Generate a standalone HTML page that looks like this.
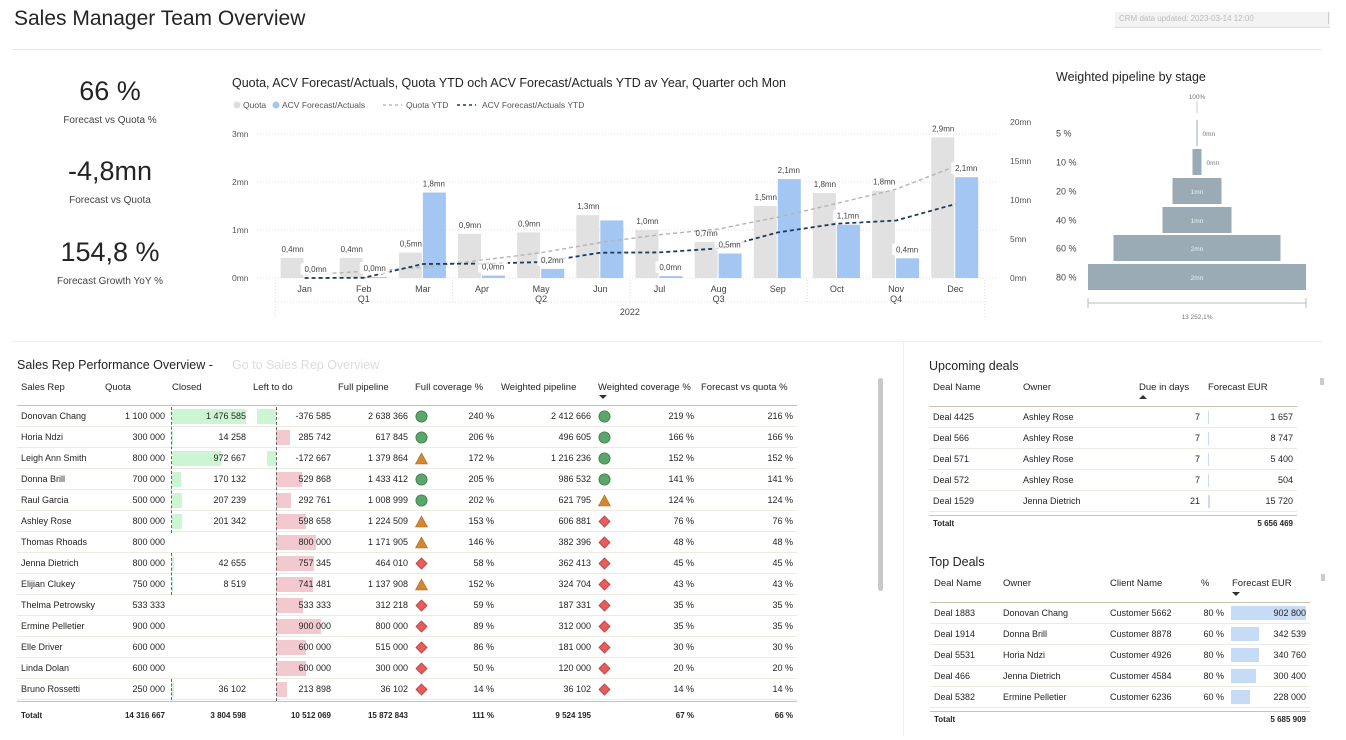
<!DOCTYPE html>
<html><head><meta charset="utf-8">
<style>
*{box-sizing:border-box;margin:0;padding:0}
body{width:1346px;height:740px;background:#fff;position:relative;overflow:hidden;font-family:"Liberation Sans",sans-serif;color:#252423}
.a{position:absolute;white-space:nowrap}
.t{font-size:9px;line-height:11px}
.r{text-align:right}
.h{font-size:9.5px;color:#252423}
</style></head><body>
<div class="a" style="left:14px;top:7px;font-size:21px">Sales Manager Team Overview</div>
<div class="a" style="left:12px;top:49px;width:1310px;height:1px;background:#ece8dc"></div>
<div class="a" style="left:1115px;top:12px;width:215px;height:16px;background:#f3f3f3;border-bottom:1px solid #ddd;font-size:8px;color:#bbb;padding:2px 0 0 4px;overflow:hidden">CRM data updated: 2023-03-14 12:00</div>
<div class="a" style="left:1328px;top:12px;width:1px;height:12px;background:#ccc"></div>

<div class="a" style="left:20px;top:76px;width:180px;text-align:center;font-size:27px">66 %</div>
<div class="a" style="left:20px;top:115px;width:180px;text-align:center;font-size:10px;color:#444">Forecast vs Quota %</div>
<div class="a" style="left:20px;top:156px;width:180px;text-align:center;font-size:27px">-4,8mn</div>
<div class="a" style="left:20px;top:195px;width:180px;text-align:center;font-size:10px;color:#444">Forecast vs Quota</div>
<div class="a" style="left:20px;top:237px;width:180px;text-align:center;font-size:27px">154,8 %</div>
<div class="a" style="left:20px;top:276px;width:180px;text-align:center;font-size:10px;color:#444">Forecast Growth YoY %</div>

<div class="a" style="left:232px;top:76px;font-size:12.5px">Quota, ACV Forecast/Actuals, Quota YTD och ACV Forecast/Actuals YTD av Year, Quarter och Mon</div>
<svg class="a" id="combo" style="left:0;top:0" width="1346" height="340"></svg>

<div class="a" style="left:1056px;top:70px;font-size:12.5px">Weighted pipeline by stage</div>
<svg class="a" id="funnel" style="left:0;top:0" width="1346" height="340"></svg>

<div class="a" style="left:12px;top:341px;width:1310px;height:1px;background:#eee"></div>
<div class="a" style="left:903px;top:341px;width:1px;height:395px;background:#eee"></div>

<div class="a" style="left:17px;top:358px;font-size:12.5px">Sales Rep Performance Overview -</div>
<div class="a" style="left:232px;top:358px;font-size:12.5px;color:#ddd">Go to Sales Rep Overview</div>
<div class="a" id="sales" style="left:0;top:0;width:900px;height:740px"></div>
<div class="a" style="left:878px;top:378px;width:5px;height:213px;background:#c8c8c8;border-radius:3px"></div>

<div class="a" style="left:929px;top:359px;font-size:12.5px">Upcoming deals</div>
<div class="a" id="upc" style="left:0;top:0;width:1346px;height:740px"></div>
<div class="a" style="left:929px;top:555px;font-size:12.5px">Top Deals</div>
<div class="a" id="top" style="left:0;top:0;width:1346px;height:740px"></div>
<div class="a" style="left:1320px;top:378px;width:4px;height:7px;background:#ccc"></div>
<div class="a" style="left:1321px;top:574px;width:4px;height:7px;background:#ccc"></div>

<script>
// ===== combo chart data =====
const months=["Jan","Feb","Mar","Apr","May","Jun","Jul","Aug","Sep","Oct","Nov","Dec"];
const quarters=["Q1","Q2","Q3","Q4"];
const quota=[0.42,0.42,0.53,0.92,0.95,1.31,1.0,0.75,1.5,1.77,1.82,2.93];
const acv=[0.0,0.02,1.78,0.05,0.19,1.2,0.04,0.51,2.06,1.11,0.41,2.1];
const quotaYtd=[0.42,0.84,1.37,2.29,3.24,4.55,5.55,6.3,7.8,9.57,11.39,14.32];
const acvYtd=[0.0,0.02,1.8,1.85,2.04,3.24,3.28,3.79,5.85,6.96,7.37,9.47];
const leftTicks=[0,1,2,3];
const rightTicks=[0,5,10,15,20];
const quotaLabels=["0,4mn","0,4mn","0,5mn","0,9mn","0,9mn","1,3mn","1,0mn","0,7mn","1,5mn","1,8mn","1,8mn","2,9mn"];
const acvLabels=["0,0mn","0,0mn","1,8mn","0,0mn","0,2mn","","0,0mn","0,5mn","2,1mn","1,1mn","0,4mn","2,1mn"];
// ===== funnel data =====
const stages=["100%","5 %","10 %","20 %","40 %","60 %","80 %"];
const stageVals=[0.004,0.01,0.09,0.49,0.69,1.67,2.18];
const stageLabels=["","0mn","0mn","1mn","1mn","2mn","2mn"];

const NS="http://www.w3.org/2000/svg";
function s(tag,p,at){const e=document.createElementNS(NS,tag);for(const k in at)e.setAttribute(k,at[k]);p.appendChild(e);return e;}
function tx(p,x,y,str,at){const e=s("text",p,Object.assign({x:x,y:y,"font-family":"Liberation Sans, sans-serif"},at));e.textContent=str;return e;}

const svg=document.getElementById("combo");
const x0=275,slot=59.15,y0=278;
const xc=i=>x0+slot*(i+0.5);
const yL=v=>y0-v*48;
const yR=v=>y0-v*7.8;
let lg;
lg=s("circle",svg,{cx:237,cy:105,r:3.5,fill:"#ddd"});


tx(svg,243,108,"Quota",{"font-size":8.5,fill:"#555"});
lg=s("circle",svg,{cx:276,cy:105,r:3.5,fill:"#a3c6f2"});


tx(svg,282,108,"ACV Forecast/Actuals",{"font-size":8.5,fill:"#555"});
lg=s("line",svg,{x1:383,y1:105,x2:402,y2:105,stroke:"#bbb","stroke-width":1.5,"stroke-dasharray":"3 3"});


tx(svg,406,108,"Quota YTD",{"font-size":8.5,fill:"#555"});
lg=s("line",svg,{x1:457,y1:105,x2:476,y2:105,stroke:"#1f3b57","stroke-width":1.5,"stroke-dasharray":"3 3"});


tx(svg,482,108,"ACV Forecast/Actuals YTD",{"font-size":8.5,fill:"#555"});
leftTicks.forEach(v=>{
 const g=s("line",svg,{x1:257,x2:998,y1:yL(v),y2:yL(v),stroke:"#ddd","stroke-dasharray":"1 2"});
 
 
 const t=tx(svg,232,yL(v)+3,v+"mn",{"font-size":8.5,fill:"#555"});
 
 
});
rightTicks.forEach(v=>{
 const t=tx(svg,1010,yR(v)+3,v+"mn",{"font-size":8.5,fill:"#555"});
 
 
});
months.forEach((m,i)=>{
 const c=xc(i);
 const b1=s("rect",svg,{x:c-24,y:yL(quota[i]),width:23,height:quota[i]*48,fill:"#e1e1e1"});
 
 
 const b2=s("rect",svg,{x:c,y:yL(acv[i]),width:23,height:acv[i]*48,fill:"#a3c6f2"});
 
 
 const ml=tx(svg,c,292,m,{"font-size":9,fill:"#444","text-anchor":"middle"});
 
 
});
function line(arr,color,w,name){
 const d=arr.map((v,i)=>(i?"L":"M")+xc(i).toFixed(1)+","+yR(v).toFixed(1)).join(" ");
 const p=s("path",svg,{d:d,fill:"none",stroke:color,"stroke-width":w,"stroke-dasharray":"4 3"});
 
 
}
line(quotaYtd,"#b4b4b4",1.4,"line-quota-ytd");
line(acvYtd,"#1f3b57",1.8,"line-acv-ytd");
months.forEach((m,i)=>{
 const c=xc(i);
 const q=tx(svg,c-12,yL(quota[i])-6,quotaLabels[i],{"font-size":8,fill:"#444","text-anchor":"middle"});
 
 
 if(acvLabels[i]){
  const ly=yL(acv[i])-6;
  const bg=s("rect",svg,{x:c+11-15,y:ly-9,width:30,height:12,rx:2,fill:"#fff","fill-opacity":0.85});
  
  
  const a=tx(svg,c+11,ly,acvLabels[i],{"font-size":8,fill:"#444","text-anchor":"middle"});
  
  
 }
});
[0,3,6,9,12].forEach(k=>{
 const l=s("line",svg,{x1:x0+slot*k,x2:x0+slot*k,y1:280,y2:k%12==0?318:302,stroke:"#ddd","stroke-dasharray":"1 2"});
 
 
});
let hl=s("line",svg,{x1:x0,x2:x0+slot*12,y1:302,y2:302,stroke:"#ddd","stroke-dasharray":"1 2"});


quarters.forEach((q,k)=>{
 const t=tx(svg,x0+slot*(3*k+1.5),302,q,{"font-size":9,fill:"#444","text-anchor":"middle"});
 
 
});
let yr=tx(svg,x0+slot*6,315,"2022",{"font-size":9,fill:"#444","text-anchor":"middle"});



// ===== funnel =====
const fs=document.getElementById("funnel");
const fc=1197,fscale=218/2.18,rowY=[107,133,162,191,220,248,277];
stages.forEach((st,i)=>{
 const w=Math.max(stageVals[i]*fscale,1);
 const r=s("rect",fs,{x:fc-w/2,y:rowY[i]-13+(i==0?7:0),width:w,height:i==0?12:26,fill:i==0?"#ccc":"#9aabb6"});
 
 
 if(i==0){
  const t=tx(fs,fc,99,st,{"font-size":6.5,fill:"#777","text-anchor":"middle"});
  
  
 }else{
  const t=tx(fs,1056,rowY[i]+3.5,st,{"font-size":9,fill:"#444"});
  
  
  const inside=w>30;
  const v=tx(fs,inside?fc:fc+w/2+5,rowY[i]+3,stageLabels[i],{"font-size":6.5,fill:inside?"#eef2f4":"#777","text-anchor":inside?"middle":"start"});
  
  
 }
});
let fa=s("path",fs,{d:"M1088,298 V308 M1088,303 H1306 M1306,298 V308",stroke:"#bbb",fill:"none"});


let ft=tx(fs,1197,319,"13 252,1%",{"font-size":6.5,fill:"#777","text-anchor":"middle"});



// ===== tables =====
function fmt(n){const neg=n<0;let s=Math.abs(n).toString().replace(/\B(?=(\d{3})+(?!\d))/g," ");return (neg?"-":"")+s;}
function d(p,cls,style,html){const e=document.createElement("div");e.className="a "+cls;e.style.cssText=style;e.innerHTML=html;p.appendChild(e);return e;}

const reps=["Donovan Chang","Horia Ndzi","Leigh Ann Smith","Donna Brill","Raul Garcia","Ashley Rose","Thomas Rhoads","Jenna Dietrich","Elijian Clukey","Thelma Petrowsky","Ermine Pelletier","Elle Driver","Linda Dolan","Bruno Rossetti"];
const repQuota=[1100000,300000,800000,700000,500000,800000,800000,800000,750000,533333,900000,600000,600000,250000];
const repClosed=[1476585,14258,972667,170132,207239,201342,0,42655,8519,0,0,0,0,36102];
const repLeft=[-376585,285742,-172667,529868,292761,598658,800000,757345,741481,533333,900000,600000,600000,213898];
const repPipe=[2638366,617845,1379864,1433412,1008999,1224509,1171905,464010,1137908,312218,800000,515000,300000,36102];
const fullIcon=["c","c","t","c","c","t","t","d","t","d","d","d","d","d"];
const fullCov=[240,206,172,205,202,153,146,58,152,59,89,86,50,14];
const repWeighted=[2412666,496605,1216236,986532,621795,606881,382396,362413,324704,187331,312000,181000,120000,36102];
const wIcon=["c","c","c","c","t","d","d","d","d","d","d","d","d","d"];
const wCov=[219,166,152,141,124,76,48,45,43,35,35,30,20,14];
const fvq=[216,166,152,141,124,76,48,45,43,35,35,30,20,14];
const repTotals=["14 316 667","3 804 598","10 512 069","15 872 843","111 %","9 524 195","67 %","66 %"];

function icon(type){
 if(type=="c")return '<svg width="13" height="13"><circle cx="6.5" cy="6.5" r="5.6" fill="#5ba66b" stroke="#3e7d4c" stroke-width="0.8"/></svg>';
 if(type=="t")return '<svg width="13" height="13"><path d="M6.5,1 L12.5,12 H0.5Z" fill="#d3872e" stroke="#a8671f" stroke-width="0.6"/></svg>';
 return '<svg width="13" height="13"><path d="M6.5,1 L12,6.5 L6.5,12 L1,6.5Z" fill="#e85c5c" stroke="#b83a3a" stroke-width="0.8"/></svg>';
}
const BS=0.00005;
const S=document.getElementById("sales");
const hdr=[["Sales Rep",21],["Quota",105],["Closed",172],["Left to do",253],["Full pipeline",338],["Full coverage %",415],["Weighted pipeline",501],["Weighted coverage %",598],["Forecast vs quota %",701]];
hdr.forEach(h=>{const e=d(S,"h","left:"+h[1]+"px;top:382px","");e.textContent=h[0];
 
 });
let ar=d(S,"","left:599px;top:395px;width:0;height:0;border-left:4px solid transparent;border-right:4px solid transparent;border-top:4px solid #333","");


let hln=d(S,"","left:17px;top:405px;width:780px;height:1px;background:#c8c2b3","");


const RH=21,RY=406;
reps.forEach((n,i)=>{
 const y=RY+i*RH;
 const row=d(S,"t","left:17px;top:"+y+"px;width:780px;height:21px;border-bottom:1px solid #eceae2","");
 
 
 const cy=y+5;
 if(repClosed[i]>0){
  const b=d(S,"","left:172px;top:"+(y+3)+"px;width:"+(repClosed[i]*BS)+"px;height:15px;background:#ccf5d3","");
  
  
 }
 const lw=Math.abs(repLeft[i])*BS;
 const lb=d(S,"","left:"+(repLeft[i]<0?276-lw:276)+"px;top:"+(y+3)+"px;width:"+lw+"px;height:15px;background:"+(repLeft[i]<0?"#ccf5d3":"#f2c9cf"),"");
 
 
 const cells=[[n,21,0,"l"],[fmt(repQuota[i]),105,60],[repClosed[i]?fmt(repClosed[i]):"",180,66],[fmt(repLeft[i]),270,61],[fmt(repPipe[i]),340,68],[fullCov[i]+" %",440,54],[fmt(repWeighted[i]),510,81],[wCov[i]+" %",630,64],[fvq[i]+" %",720,73]];
 cells.forEach(c=>{
  const e=d(S,"t"+(c[3]?"":" r"),"left:"+c[1]+"px;top:"+cy+"px;"+(c[3]?"":"width:"+c[2]+"px"),"");
  e.textContent=c[0];
  
  
 });
 const i1=d(S,"","left:415px;top:"+(y+4)+"px;width:13px;height:13px",icon(fullIcon[i]));
 
 
 const i2=d(S,"","left:598px;top:"+(y+4)+"px;width:13px;height:13px",icon(wIcon[i]));
 
 
});
let dl1=d(S,"","left:171px;top:407px;width:0;height:"+(RH*6)+"px;border-left:1px dashed #666","");


let dl1b=d(S,"","left:171px;top:"+(RY+RH*7)+"px;width:0;height:"+(RH*2)+"px;border-left:1px dashed #666","");


let dl1c=d(S,"","left:171px;top:"+(RY+RH*13)+"px;width:0;height:"+RH+"px;border-left:1px dashed #666","");


let dl2=d(S,"","left:276px;top:407px;width:0;height:"+(RH*14)+"px;border-left:1px dashed #666","");


let tl=d(S,"","left:17px;top:"+(RY+RH*14+1)+"px;width:780px;height:1px;background:#c8c2b3","");


let tot=d(S,"t","left:21px;top:710px;font-weight:bold;font-size:8px","Totalt");


[[105,60],[180,66],[270,61],[340,68],[440,54],[510,81],[630,64],[720,73]].forEach((c,k)=>{
 const e=d(S,"t r","left:"+c[0]+"px;top:710px;width:"+c[1]+"px;font-weight:bold;font-size:8px","");
 e.textContent=repTotals[k];
 
 
});

// upcoming deals
const upDeals=["Deal 4425","Deal 566","Deal 571","Deal 572","Deal 1529"];
const upOwner=["Ashley Rose","Ashley Rose","Ashley Rose","Ashley Rose","Jenna Dietrich"];
const upDays=[7,7,7,7,21];
const upEur=[1657,8747,5400,504,15720];
const U=document.getElementById("upc");
[["Deal Name",933],["Owner",1023],["Due in days",1139],["Forecast EUR",1208]].forEach(h=>{
 const e=d(U,"h","left:"+h[1]+"px;top:382px","");e.textContent=h[0];
 
 
});
let ua=d(U,"","left:1139px;top:395px;width:0;height:0;border-left:4px solid transparent;border-right:4px solid transparent;border-bottom:4px solid #333","");


let uh=d(U,"","left:929px;top:406px;width:368px;height:1px;background:#c8c2b3","");


upDeals.forEach((n,i)=>{
 const y=407+i*21;
 const row=d(U,"","left:929px;top:"+y+"px;width:368px;height:21px;border-bottom:1px solid #eceae2","");
 
 
 const b=d(U,"","left:1208px;top:"+(y+4)+"px;width:"+Math.max(upEur[i]/15720*1.5,0.2)+"px;height:13px;background:#c6dbf5","");
 
 
 const cs=[[n,933,0],[upOwner[i],1023,0],[String(upDays[i]),1150,50],[fmt(upEur[i]),1230,63]];
 cs.forEach(c=>{
  const e=d(U,"t"+(c[2]?" r":""),"left:"+c[1]+"px;top:"+(y+5)+"px;"+(c[2]?"width:"+c[2]+"px":""),"");
  e.textContent=c[0];
  
  
 });
});
let ut=d(U,"","left:929px;top:515px;width:368px;height:1px;background:#c8c2b3","");


let ut1=d(U,"t","left:933px;top:518px;font-weight:bold;font-size:8px","Totalt");


let ut2=d(U,"t r","left:1200px;top:518px;width:93px;font-weight:bold;font-size:8px","5 656 469");



// top deals
const topDeals=["Deal 1883","Deal 1914","Deal 5531","Deal 466","Deal 5382"];
const topOwner=["Donovan Chang","Donna Brill","Horia Ndzi","Jenna Dietrich","Ermine Pelletier"];
const topClient=["Customer 5662","Customer 8878","Customer 4926","Customer 4584","Customer 6236"];
const topPct=[80,60,80,80,60];
const topEur=[902800,342539,340760,300400,228000];
const T=document.getElementById("top");
[["Deal Name",934],["Owner",1003],["Client Name",1110],["%",1201],["Forecast EUR",1232]].forEach(h=>{
 const e=d(T,"h","left:"+h[1]+"px;top:578px","");e.textContent=h[0];
 
 
});
let ta=d(T,"","left:1232px;top:592px;width:0;height:0;border-left:4px solid transparent;border-right:4px solid transparent;border-top:4px solid #333","");


let th=d(T,"","left:930px;top:602px;width:380px;height:1px;background:#c8c2b3","");


topDeals.forEach((n,i)=>{
 const y=603+i*21;
 const row=d(T,"","left:930px;top:"+y+"px;width:380px;height:21px;border-bottom:1px solid #eceae2","");
 
 
 const b=d(T,"","left:1231px;top:"+(y+3)+"px;width:"+(topEur[i]/902800*75)+"px;height:14px;background:#c6dbf5","");
 
 
 const cs=[[n,934,0],[topOwner[i],1003,0],[topClient[i],1110,0],[topPct[i]+" %",1190,34],[fmt(topEur[i]),1240,66]];
 cs.forEach(c=>{
  const e=d(T,"t"+(c[2]?" r":""),"left:"+c[1]+"px;top:"+(y+5)+"px;"+(c[2]?"width:"+c[2]+"px":""),"");
  e.textContent=c[0];
  
  
 });
});
let tt=d(T,"","left:930px;top:711px;width:380px;height:1px;background:#c8c2b3","");


let tt1=d(T,"t","left:934px;top:714px;font-weight:bold;font-size:8px","Totalt");


let tt2=d(T,"t r","left:1210px;top:714px;width:96px;font-weight:bold;font-size:8px","5 685 909");


</script>
</body></html>
